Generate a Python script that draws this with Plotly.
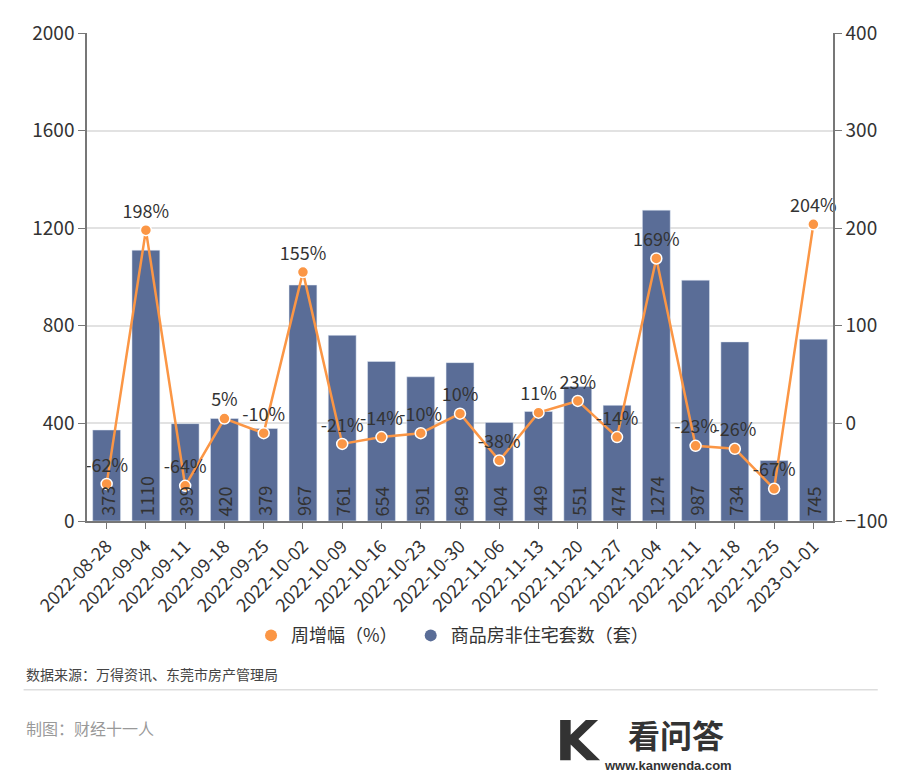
import plotly.graph_objects as go

dates = ["2022-08-28", "2022-09-04", "2022-09-11", "2022-09-18", "2022-09-25", "2022-10-02",
         "2022-10-09", "2022-10-16", "2022-10-23", "2022-10-30", "2022-11-06", "2022-11-13",
         "2022-11-20", "2022-11-27", "2022-12-04", "2022-12-11", "2022-12-18", "2022-12-25",
         "2023-01-01"]
units = [373, 1110, 399, 420, 379, 967, 761, 654, 591, 649, 404, 449, 551, 474, 1274, 987, 734, 248, 745]
unit_labels = ["373", "1110", "399", "420", "379", "967", "761", "654", "591", "649", "404", "449",
               "551", "474", "1274", "987", "734", "", "745"]
growth = [-62, 198, -64, 5, -10, 155, -21, -14, -10, 10, -38, 11, 23, -14, 169, -23, -26, -67, 204]

FONT = "Noto Sans CJK SC, Noto Sans, sans-serif"
BAR = "#5a6d97"
LINE = "#fb9645"
TXT = "#333333"
AX = "#777777"

fig = go.Figure()
fig.add_trace(go.Bar(
    x=dates, y=units, marker=dict(color=BAR), showlegend=False, name="商品房非住宅套数（套）",
))
fig.add_trace(go.Scatter(
    x=dates, y=growth, yaxis="y2", mode="lines+markers+text",
    text=[f"{g}%" for g in growth], textposition="top center",
    textfont=dict(size=18, color=TXT, family=FONT),
    line=dict(color=LINE, width=2.5),
    marker=dict(size=11, color=LINE, line=dict(color="white", width=1.5)),
    showlegend=False, cliponaxis=False, name="周增幅（%）",
))
# bar value labels, rotated, anchored at the baseline
for d, lab in zip(dates, unit_labels):
    if lab:
        fig.add_annotation(x=d, y=0, xref="x", yref="y", text=lab, textangle=-90,
                           showarrow=False, yanchor="bottom", xanchor="center", yshift=3,
                           font=dict(size=18, color=TXT, family=FONT))
# legend entries
fig.add_trace(go.Scatter(x=[None], y=[None], mode="markers", name="周增幅（%）  ",
                         marker=dict(size=15, color=LINE, symbol="circle")))
fig.add_trace(go.Scatter(x=[None], y=[None], mode="markers", name="商品房非住宅套数（套）",
                         marker=dict(size=15, color=BAR, symbol="circle")))

fig.update_layout(
    width=903, height=774,
    margin=dict(l=87, r=70, t=33, b=253),
    paper_bgcolor="white", plot_bgcolor="white",
    font=dict(family=FONT, color=TXT),
    bargap=0.29,
    xaxis=dict(type="category", range=[-0.5, len(dates) - 0.5], tickangle=-45,
               tickfont=dict(size=18, color=TXT),
               showline=True, linecolor=AX, linewidth=1.5, ticks="outside",
               ticklen=6, tickcolor=AX, showgrid=False),
    yaxis=dict(range=[0, 2000], dtick=400, showgrid=True, gridcolor="#e2e2e2", gridwidth=1.5,
               showline=True, linecolor=AX, linewidth=1.5, ticks="outside", ticklen=7,
               tickcolor=AX, tickfont=dict(size=19, color=TXT), zeroline=False),
    yaxis2=dict(range=[-100, 400], dtick=100, overlaying="y", side="right", showgrid=False,
                showline=True, linecolor=AX, linewidth=1.5, ticks="outside", ticklen=7,
                tickcolor=AX, tickfont=dict(size=19, color=TXT), zeroline=False),
    legend=dict(orientation="h", x=0.49, xanchor="center", y=-0.235, yanchor="middle",
                font=dict(size=18, color=TXT), itemsizing="constant",
                traceorder="normal"),
)

fig.add_annotation(text="数据来源：万得资讯、东莞市房产管理局", xref="paper", yref="paper",
                   x=-0.085, y=-0.313, xanchor="left", yanchor="middle", showarrow=False,
                   font=dict(size=14, color="#444444"))
fig.add_shape(type="line", xref="paper", yref="paper", x0=-0.085, x1=1.06, y0=-0.346, y1=-0.346,
              line=dict(color="#dddddd", width=1.5))
fig.add_annotation(text="制图：财经十一人", xref="paper", yref="paper",
                   x=-0.085, y=-0.424, xanchor="left", yanchor="middle", showarrow=False,
                   font=dict(size=16, color="#999999"))
# watermark
fig.add_annotation(text="<b>K</b>", xref="paper", yref="paper",
                   x=0.625, y=-0.45, xanchor="left", yanchor="middle", showarrow=False,
                   font=dict(size=56, color="#333333", family="DejaVu Sans"))
fig.add_annotation(text="<b>看问答</b>", xref="paper", yref="paper",
                   x=0.722, y=-0.436, xanchor="left", yanchor="middle", showarrow=False,
                   font=dict(size=32, color="#333333"))
fig.add_annotation(text="<b>www.kanwenda.com</b>", xref="paper", yref="paper",
                   x=0.69, y=-0.502, xanchor="left", yanchor="middle", showarrow=False,
                   font=dict(size=13, color="#333333", family="Liberation Sans Narrow, Liberation Sans"))

fig.write_html("out.html")
